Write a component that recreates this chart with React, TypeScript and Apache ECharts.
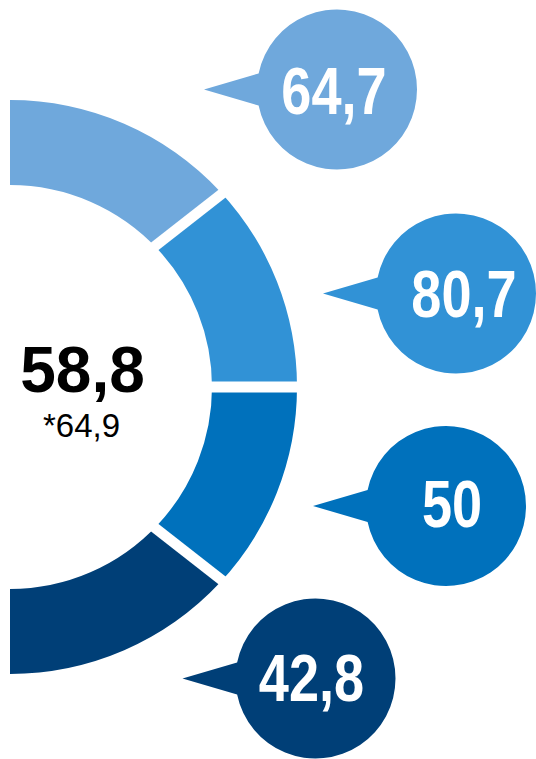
import React, { useEffect, useRef } from "react";
import * as echarts from "echarts";

// ---- data ----
const segmentNames = ["Segment 1", "Segment 2", "Segment 3", "Segment 4"];
// angular share of each ring segment (degrees)
const segmentShares = [46.9, 43.1, 43.1, 46.9];
const bubbleValues = [64.7, 80.7, 50, 42.8];
const totalValue = 58.8;
const previousValue = 64.9;

// ---- styles / layout ----
const segmentColors = ["#6FA8DC", "#3192D6", "#0071BC", "#003F77"];
const W = 536;
const H = 759;
const CX = 10;
const CY = 387;
const R_IN = 202;
const R_OUT = 287;
const bubbleCenters = [
  [337, 89.5],
  [456, 293.5],
  [446, 506],
  [315.5, 678.5],
];
const labelNudges = [
  [-3, 2],
  [8, 1],
  [6, -2],
  [-4, 0],
];
const gapBands = [
  { angle: 43.1, tilt: 38, width: 10.5 },
  { angle: 0, tilt: 0, width: 11 },
  { angle: -43.1, tilt: -38, width: 10.5 },
];
const BR = 80; // bubble radius
const TIP = 133; // pointer tip distance from bubble centre
const BASE = 16; // half height of pointer base
const baseX = Math.sqrt(BR * BR - BASE * BASE);
const BUBBLE_D = `M ${-TIP} 0 L ${-baseX} ${-BASE} A ${BR} ${BR} 0 1 1 ${-baseX} ${BASE} Z`;
const bubbleW = TIP + BR;
const bubbleH = 2 * BR;
const LABEL_FONT = "bold 66px 'Liberation Sans', Arial, sans-serif";
const LABEL_SCALE_X = 0.82;

const fmt = (v: number) => String(v).replace(".", ",");

export default function App() {
  const ref = useRef<HTMLDivElement>(null);
  useEffect(() => {
    if (!ref.current) return;
    const chart = echarts.init(ref.current, null, { renderer: "svg" });
    const shareSum = segmentShares.reduce((a, b) => a + b, 0);
    const rm = (R_IN + R_OUT) / 2;
    const halfLen = 58;
    const gapLines = gapBands.map((g) => {
      const a = (g.angle * Math.PI) / 180;
      const t = (g.tilt * Math.PI) / 180;
      const px = CX + rm * Math.cos(a);
      const py = CY - rm * Math.sin(a);
      const dx = Math.cos(t) * halfLen;
      const dy = -Math.sin(t) * halfLen;
      return {
        type: "line",
        z: 100,
        silent: true,
        shape: { x1: px - dx, y1: py - dy, x2: px + dx, y2: py + dy },
        style: { stroke: "#ffffff", lineWidth: g.width, lineCap: "butt" },
      };
    });
    const option: any = {
      animation: false,
      backgroundColor: "#ffffff",
      grid: { left: 0, right: 0, top: 0, bottom: 0 },
      xAxis: { type: "value", min: 0, max: W, show: false },
      yAxis: { type: "value", min: 0, max: H, inverse: true, show: false },
      series: [
        {
          type: "pie",
          center: [CX, CY],
          radius: [R_IN, R_OUT],
          startAngle: 90,
          clockwise: true,
          silent: true,
          avoidLabelOverlap: false,
          label: { show: false },
          labelLine: { show: false },
          emphasis: { disabled: true },
          z: 1,
          data: [
            ...segmentNames.map((n, i) => ({
              name: n,
              value: segmentShares[i],
              itemStyle: { color: segmentColors[i] },
            })),
            {
              name: "",
              value: 360 - shareSum,
              itemStyle: { color: "rgba(0,0,0,0)" },
            },
          ],
        },
        {
          type: "custom",
          clip: false,
          silent: true,
          z: 3,
          data: bubbleValues.map((v, i) => [bubbleCenters[i][0], bubbleCenters[i][1], v]),
          renderItem: (params: any, api: any) => {
            const i = params.dataIndex;
            const p = api.coord([api.value(0), api.value(1)]);
            return {
              type: "group",
              children: [
                {
                  type: "path",
                  shape: {
                    pathData: BUBBLE_D,
                    x: p[0] - TIP,
                    y: p[1] - BR,
                    width: bubbleW,
                    height: bubbleH,
                    layout: "cover",
                  },
                  style: { fill: segmentColors[i] },
                },
                {
                  type: "text",
                  x: p[0] + labelNudges[i][0],
                  y: p[1] + labelNudges[i][1],
                  scaleX: LABEL_SCALE_X,
                  style: {
                    text: fmt(api.value(2)),
                    textAlign: "center",
                    textVerticalAlign: "middle",
                    fill: "#ffffff",
                    font: LABEL_FONT,
                  },
                },
              ],
            };
          },
        },
      ],
      graphic: [
        ...gapLines,
        {
          type: "text",
          z: 100,
          silent: true,
          style: {
            text: fmt(totalValue),
            x: 82.5,
            y: 370,
            textAlign: "center",
            textVerticalAlign: "middle",
            fill: "#000000",
            font: "bold 64px 'Liberation Sans', Arial, sans-serif",
          },
        },
        {
          type: "text",
          z: 100,
          silent: true,
          style: {
            text: "*" + fmt(previousValue),
            x: 81.5,
            y: 425,
            textAlign: "center",
            textVerticalAlign: "middle",
            fill: "#000000",
            font: "normal 33px 'Liberation Sans', Arial, sans-serif",
          },
        },
      ],
    };
    chart.setOption(option);
    return () => chart.dispose();
  }, []);
  return (
    <div
      ref={ref}
      style={{ position: "absolute", left: 0, top: 0, width: W, height: H }}
    />
  );
}
